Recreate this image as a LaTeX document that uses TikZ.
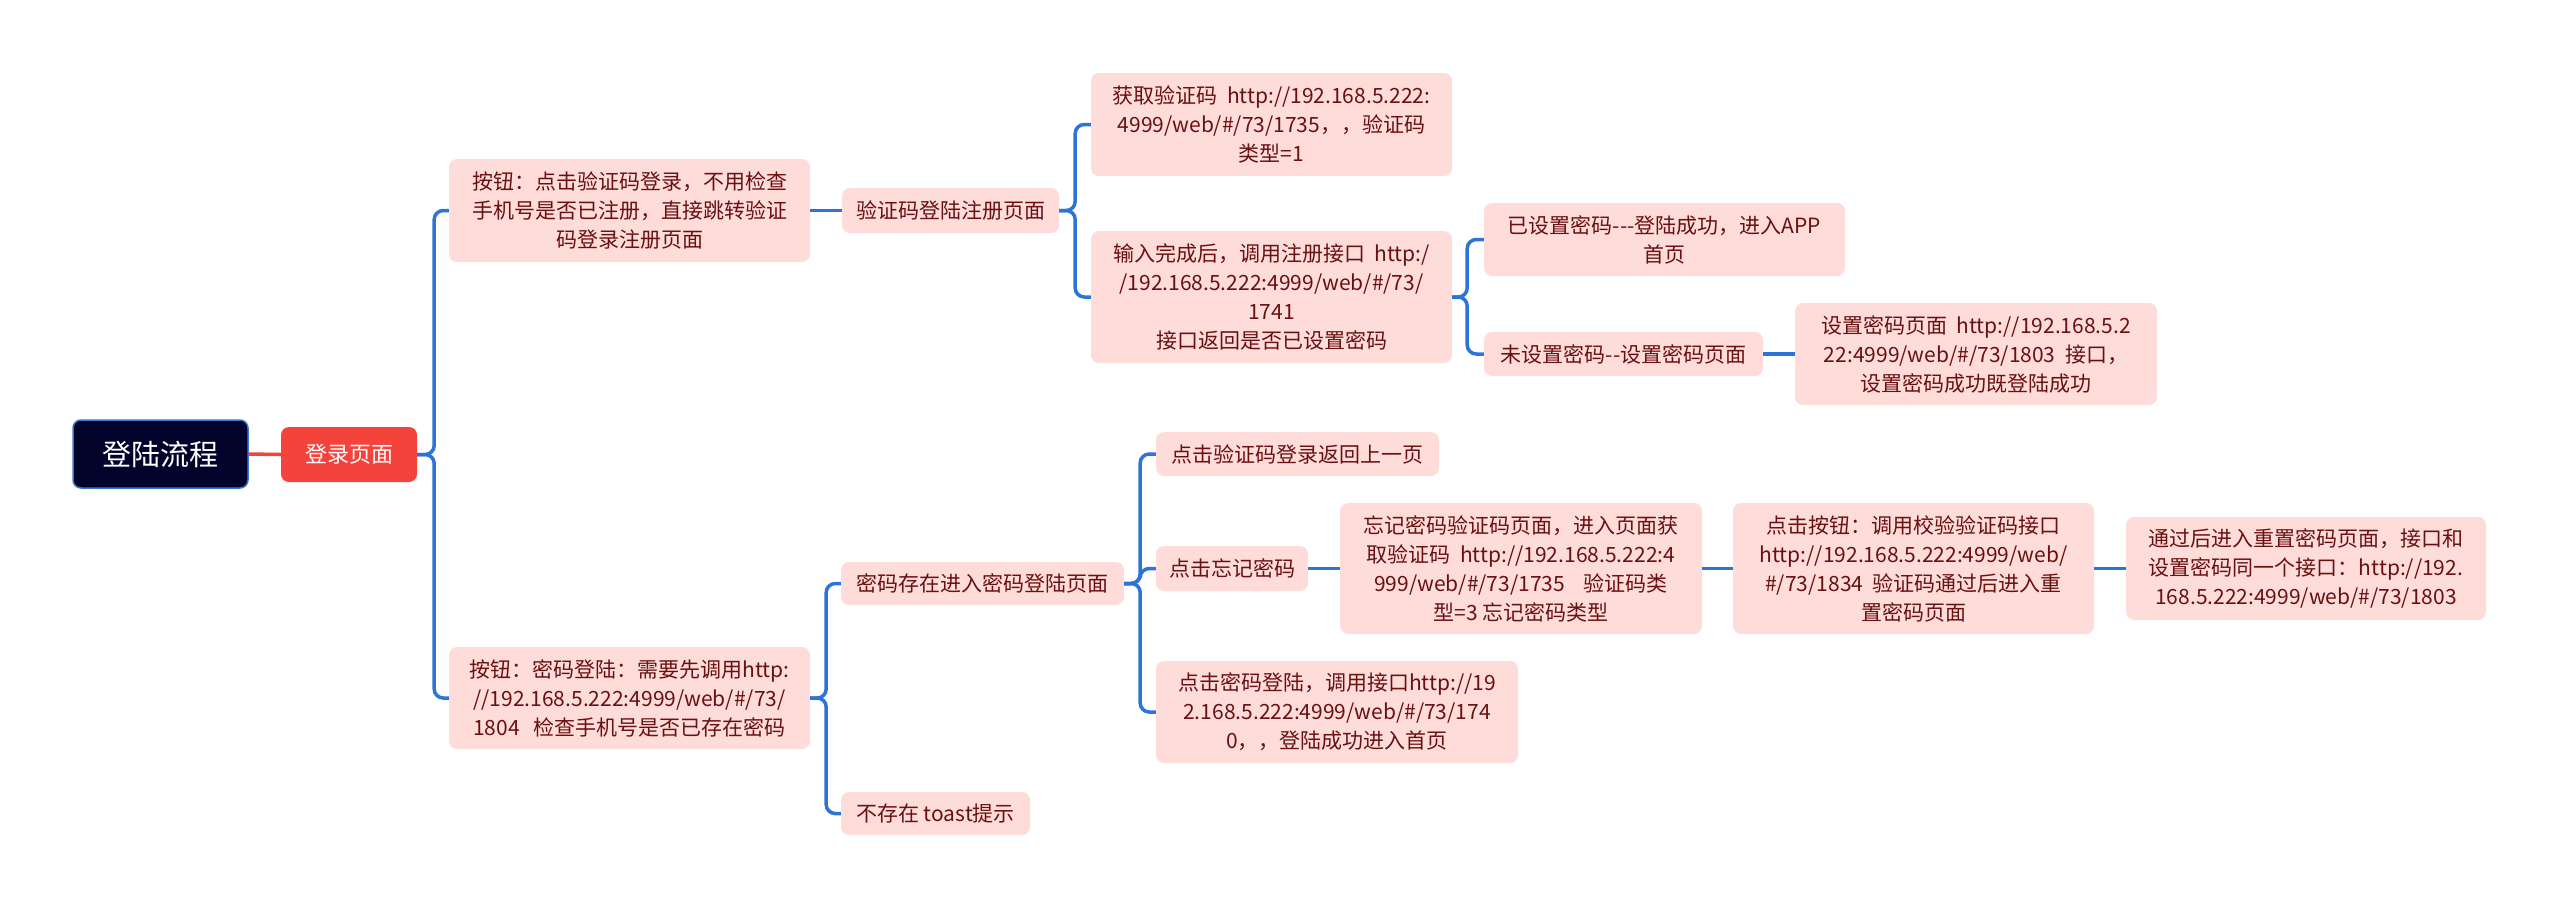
\documentclass[tikz,border=0pt]{standalone}
\usepackage{fontspec}
\setmainfont{Noto Sans CJK SC}[Ligatures=TeXOff]
\definecolor{pinkfill}{HTML}{FDDCDA}
\definecolor{txtred}{HTML}{6A1010}
\definecolor{linkblue}{HTML}{2C74D6}
\definecolor{redbox}{HTML}{F4433B}
\definecolor{navy}{HTML}{01032A}
\definecolor{navyedge}{HTML}{3A78D0}
\tikzset{
  topic/.style={fill=pinkfill, text=txtred, rounded corners=8pt, align=center,
    inner sep=0pt, font=\fontsize{21}{29}\selectfont},
  rootbox/.style={fill=navy, draw=navyedge, line width=1.5pt, text=white, rounded corners=8pt,
    inner sep=0pt, font=\fontsize{29}{34}\selectfont},
  mainbox/.style={fill=redbox, text=white, rounded corners=8pt, inner sep=0pt,
    font=\fontsize{22}{28}\selectfont},
  conn/.style={draw=linkblue, line width=3.5pt, rounded corners=9pt},
  redconn/.style={draw=redbox, line width=3.5pt},
}
\begin{document}
\begin{tikzpicture}[x=1pt,y=-1pt]
\useasboundingbox (0,0) rectangle (2560,908);
% nodes
\node[rootbox, minimum width=175pt, minimum height=68pt] (root) at (160.5,454) {登陆流程};
\node[mainbox, minimum width=136pt, minimum height=55pt] (login) at (349,454.5) {登录页面};
\node[topic, minimum width=361pt, minimum height=103pt] (A) at (629.5,210.5) {按钮：点击验证码登录，不用检查\\手机号是否已注册，直接跳转验证\\码登录注册页面};
\node[topic, minimum width=361pt, minimum height=102pt] (B) at (629.5,698) {按钮：密码登陆：需要先调用http:\\//192.168.5.222:4999/web/\#/73/\\1804\ \ \ 检查手机号是否已存在密码};
\node[topic, minimum width=217pt, minimum height=45pt] (C) at (950.5,210.5) {验证码登陆注册页面};
\node[topic, minimum width=361pt, minimum height=103pt] (D) at (1271.5,124.5) {获取验证码\ \ http://192.168.5.222:\\4999/web/\#/73/1735，，验证码\\类型=1};
\node[topic, minimum width=361pt, minimum height=132pt] (E) at (1271.5,297) {输入完成后，调用注册接口\ \ http:/\\/192.168.5.222:4999/web/\#/73/\\1741\\接口返回是否已设置密码};
\node[topic, minimum width=361pt, minimum height=73pt] (F) at (1664.5,239.5) {已设置密码---登陆成功，进入APP\\首页};
\node[topic, minimum width=279pt, minimum height=44pt] (G) at (1623.5,354) {未设置密码--设置密码页面};
\node[topic, minimum width=362pt, minimum height=102pt] (H) at (1976,354) {设置密码页面\ \ http://192.168.5.2\\22:4999/web/\#/73/1803\ \ 接口，\\设置密码成功既登陆成功};
\node[topic, minimum width=283pt, minimum height=43pt] (I) at (982.5,583.5) {密码存在进入密码登陆页面};
\node[topic, minimum width=189pt, minimum height=43pt] (J) at (935.5,813.5) {不存在 toast提示};
\node[topic, minimum width=283pt, minimum height=44pt] (K) at (1297.5,454) {点击验证码登录返回上一页};
\node[topic, minimum width=152pt, minimum height=45pt] (L) at (1232,568.5) {点击忘记密码};
\node[topic, minimum width=362pt, minimum height=131pt] (M) at (1521,568.5) {忘记密码验证码页面，进入页面获\\取验证码\ \ http://192.168.5.222:4\\999/web/\#/73/1735\ \ \ \ 验证码类\\型=3 忘记密码类型};
\node[topic, minimum width=362pt, minimum height=102pt] (N) at (1337,712) {点击密码登陆，调用接口http://19\\2.168.5.222:4999/web/\#/73/174\\0，，登陆成功进入首页};
\node[topic, minimum width=361pt, minimum height=131pt] (O) at (1913.5,568.5) {点击按钮：调用校验验证码接口\\http://192.168.5.222:4999/web/\\\#/73/1834\ \ 验证码通过后进入重\\置密码页面};
\node[topic, minimum width=360pt, minimum height=103pt] (P) at (2306,568.5) {通过后进入重置密码页面，接口和\\设置密码同一个接口：http://192.\\168.5.222:4999/web/\#/73/1803};
% connectors
\draw[redconn] (root.east) -- (login.west);
\draw[conn] (login.east) -- ([xshift=17pt]login.east) |- (A.west);
\draw[conn] (login.east) -- ([xshift=17pt]login.east) |- (B.west);
\draw[conn] (A.east) -- (C.west);
\draw[conn] (C.east) -- ([xshift=16pt]C.east) |- (D.west);
\draw[conn] (C.east) -- ([xshift=16pt]C.east) |- (E.west);
\draw[conn] (E.east) -- ([xshift=15pt]E.east) |- (F.west);
\draw[conn] (E.east) -- ([xshift=15pt]E.east) |- (G.west);
\draw[conn] (G.east) -- (H.west);
\draw[conn] (B.east) -- ([xshift=16pt]B.east) |- (I.west);
\draw[conn] (B.east) -- ([xshift=16pt]B.east) |- (J.west);
\draw[conn] (I.east) -- ([xshift=16pt]I.east) |- (K.west);
\draw[conn] (I.east) -- ([xshift=16pt]I.east) |- (L.west);
\draw[conn] (I.east) -- ([xshift=16pt]I.east) |- (N.west);
\draw[conn] (L.east) -- (M.west);
\draw[conn] (M.east) -- (O.west);
\draw[conn] (O.east) -- (P.west);
\end{tikzpicture}
\end{document}
